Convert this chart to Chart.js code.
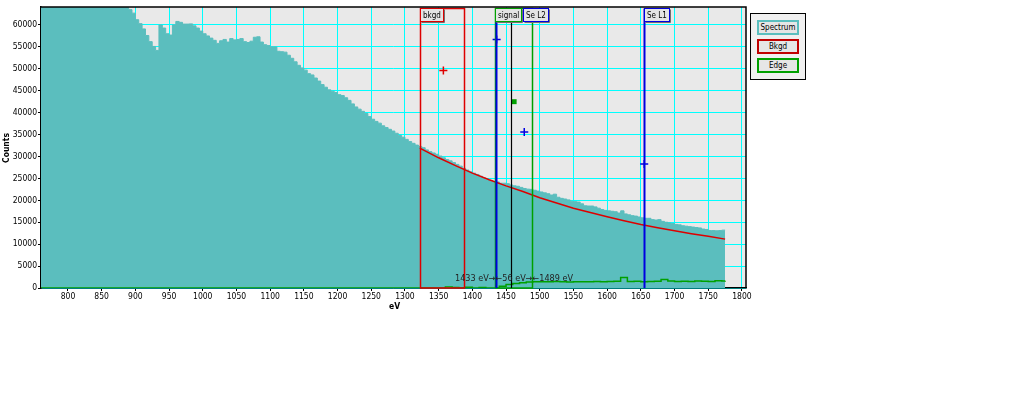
<!DOCTYPE html>
<html>
<head>
<meta charset="utf-8">
<title>Spectrum</title>
<script src="https://cdn.jsdelivr.net/npm/chart.js@4.4.1/dist/chart.umd.min.js"></script>
<style>
  body { margin: 0; background: #fff; }
  #wrap { position: relative; width: 1025px; height: 394px; }
  #legend { position: absolute; left: 750px; top: 13px; width: 56px; height: 67px; box-sizing: border-box; border: 1px solid #000; background: #f0f0f0; }
  .lg { position: absolute; left: 6px; width: 42px; height: 15px; box-sizing: border-box; border: 2px solid; background: #e6e6e6;
        font: 8px "DejaVu Sans Condensed", "DejaVu Sans", sans-serif; text-align: center; line-height: 11px; color: #000; }
</style>
</head>
<body>
<div id="wrap">
  <canvas id="spec" width="1025" height="394"></canvas>
  <div id="legend">
    <div class="lg" style="top:6px;border-color:#5bbfbf">Spectrum</div>
    <div class="lg" style="top:25px;border-color:#c00000">Bkgd</div>
    <div class="lg" style="top:44px;border-color:#00a000">Edge</div>
  </div>
</div>
<script>
// spectrum channels, 5 eV each, starting at 760 eV
const spectrumStart = 760, spectrumStep = 5;
const spectrumCounts = [
  70800, 70600, 70300, 70100, 69800, 69600, 69300, 69000, 68800, 68500, 68300, 68000, 67700,
  67500, 67200, 67000, 66700, 66400, 66200, 65900, 65700, 65400, 65200, 64900, 64700, 64400,
  63500, 62700, 61200, 60300, 59100, 57600, 56200, 55100, 54200, 60000, 59300, 58000, 57700,
  60000, 60800, 60600, 60200, 60200, 60250, 59800, 59300, 58600, 58000, 57500, 57000, 56500,
  55800, 56400, 56700, 56100, 56900, 56600, 56700, 56900, 56200, 56000, 56300, 57200, 57300,
  56100, 55500, 55300,
  55000, 55000, 54000, 53900, 53800, 53100, 52400, 51600, 50800, 50200, 49700, 48900, 48600,
  47900, 47200, 46400, 45800, 45200, 44900, 44600, 44100, 43900, 43400, 42800, 42000, 41300,
  40800, 40300, 39800, 39100, 38500, 38000, 37600, 37000, 36600, 36200, 35800, 35300, 34800,
  34400, 33900, 33400, 33000, 32600, 32300,
  32000, 31500, 31100, 30800, 30500, 30100, 29700, 29300, 29000, 28600, 28200, 27800, 27300,
  26900, 26500, 26200, 25900, 25500, 25100, 24700, 24500, 24300, 24200, 23900, 23900, 23800,
  23500, 23300, 23200, 22950, 22700, 22550, 22500, 22300, 22100, 21900, 21700, 21500, 21200,
  21400, 20700, 20450, 20300, 20100, 19800, 19700, 19600, 19200, 18750, 18700, 18700, 18500,
  18200, 17900, 17700, 17600, 17500, 17400, 17100, 17600, 16900, 16700, 16500, 16400, 16200,
  16000, 15900, 15900, 15600, 15500, 15600, 15200, 15000, 14850, 14700, 14500, 14400, 14200,
  14100, 14000, 13900, 13800, 13700, 13450, 13350, 13100, 13100, 13050, 13100, 13200, 13200
];

const bkgdEnergy = [1322, 1350, 1375, 1400, 1425, 1450, 1475, 1500, 1525, 1550, 1575, 1600, 1625, 1650, 1675, 1700, 1725, 1750, 1775];
const bkgdCounts = [31900, 29700, 27900, 26200, 24700, 23300, 22000, 20600, 19400, 18200, 17200, 16250, 15350, 14500, 13750, 13050, 12400, 11800, 11150];

const edgeEnergy = [760, 1330, 1340, 1350, 1360, 1370, 1380, 1390, 1400, 1410, 1420, 1430, 1440, 1450, 1460, 1470, 1480, 1490, 1500, 1510,
  1520, 1530, 1540, 1550, 1560, 1570, 1580, 1590, 1600, 1610, 1620, 1630, 1640, 1650, 1660, 1670, 1680, 1690, 1700, 1710,
  1720, 1730, 1740, 1750, 1760, 1770, 1775];
const edgeCounts = [0, 0, 0, 0, 250, 100, 0, 150, 0, 100, 0, 0, 400, 800, 1050, 1200, 1350, 1450, 1400, 1450,
  1500, 1400, 1350, 1400, 1450, 1400, 1500, 1450, 1500, 1550, 2400, 1500, 1550, 1450, 1500, 1550, 1950, 1600, 1500, 1550,
  1500, 1600, 1550, 1500, 1650, 1600, 1650];

const xTicks = [800, 850, 900, 950, 1000, 1050, 1100, 1150, 1200, 1250, 1300, 1350, 1400, 1450, 1500, 1550, 1600, 1650, 1700, 1750, 1800];
const yTicks = [0, 5000, 10000, 15000, 20000, 25000, 30000, 35000, 40000, 45000, 50000, 55000, 60000];

// windows and markers (eV)
const bkgdWindow = [1322, 1388];
const signalWindow = [1433, 1489];
const centroidEv = 1457;
const edgeLines = [{ ev: 1435, label: 'Se L2' }, { ev: 1655, label: 'Se L1' }];
const bkgdMark = { ev: 1357, counts: 49600 };
const signalMark = { ev: 1462, counts: 42500 };
const edgeMarkEv = [1436, 1477, 1655];
const edgeMarkCounts = [56700, 35600, 28300];

const TEAL = '#5bbebe', RED = '#dd0000', GREEN = '#00a000', BLUE = '#0000e0';
const FONT = '"DejaVu Sans Condensed", "DejaVu Sans", sans-serif';

const spectrumData = spectrumCounts.map((c, i) => ({ x: spectrumStart + i * spectrumStep, y: c }));

const overlay = {
  id: 'overlay',
  beforeDraw(chart) {
    const { ctx, chartArea: a } = chart;
    ctx.save();
    ctx.fillStyle = '#e9e9e9';
    ctx.fillRect(a.left, a.top, a.right - a.left, a.bottom - a.top);
    ctx.restore();
  },
  afterDatasetsDraw(chart) {
    const { ctx, chartArea: a, scales: { x } } = chart;
    const px = v => Math.round(x.getPixelForValue(v)) + 0.5;
    const top = a.top + 1.5, bot = a.bottom;
    ctx.save();

    const vline = (v, color, w) => { ctx.strokeStyle = color; ctx.lineWidth = w; ctx.beginPath(); ctx.moveTo(px(v), top); ctx.lineTo(px(v), bot); ctx.stroke(); };
    const box = (win, color, w) => { ctx.strokeStyle = color; ctx.lineWidth = w; ctx.strokeRect(px(win[0]), top, px(win[1]) - px(win[0]), bot - top); };

    box(bkgdWindow, RED, 1.5);
    box(signalWindow, GREEN, 1.5);
    vline(centroidEv, '#000', 1.2);
    edgeLines.forEach(e => vline(e.ev, BLUE, 2));

    ctx.font = '8px ' + FONT;
    const tag = (xl, text, color) => {
      const w = Math.round(ctx.measureText(text).width) + 5, h = 13, y0 = a.top + 1.5;
      ctx.fillStyle = '#e4e4e4'; ctx.fillRect(xl, y0, w, h);
      ctx.strokeStyle = '#707070'; ctx.lineWidth = 1;
      ctx.beginPath(); ctx.moveTo(xl + w + 1, y0 + 1); ctx.lineTo(xl + w + 1, y0 + h + 1); ctx.lineTo(xl + 1, y0 + h + 1); ctx.stroke();
      ctx.strokeStyle = color; ctx.strokeRect(xl, y0, w, h);
      ctx.fillStyle = '#000'; ctx.textAlign = 'left'; ctx.textBaseline = 'middle';
      ctx.fillText(text, xl + 2.5, y0 + h / 2 + 0.5);
      return xl + w;
    };
    tag(px(bkgdWindow[0]), 'bkgd', RED);
    const sigEnd = tag(px(signalWindow[0]), 'signal', GREEN);
    tag(sigEnd + 2, edgeLines[0].label, BLUE);
    tag(px(edgeLines[1].ev), edgeLines[1].label, BLUE);

    // window width annotation
    ctx.font = '9px ' + FONT; ctx.fillStyle = '#222'; ctx.textBaseline = 'middle';
    const ty = a.bottom - 9;
    ctx.textAlign = 'right'; ctx.fillText(signalWindow[0] + ' eV\u2192', px(signalWindow[0]), ty);
    ctx.textAlign = 'center'; ctx.fillText('\u2190' + (signalWindow[1] - signalWindow[0]) + ' eV\u2192', (px(signalWindow[0]) + px(signalWindow[1])) / 2, ty);
    ctx.textAlign = 'left'; ctx.fillText('\u2190' + signalWindow[1] + ' eV', px(signalWindow[1]), ty);

    // frame
    ctx.strokeStyle = '#000'; ctx.lineWidth = 1.5;
    ctx.beginPath(); ctx.moveTo(a.left, a.top); ctx.lineTo(a.right, a.top); ctx.lineTo(a.right, a.bottom); ctx.stroke();

    // axis titles
    ctx.font = 'bold 8.5px ' + FONT; ctx.fillStyle = '#000'; ctx.textAlign = 'center';
    ctx.fillText('eV', (a.left + a.right) / 2 + 1, 307);
    ctx.translate(7, 148); ctx.rotate(-Math.PI / 2); ctx.fillText('Counts', 0, 0);
    ctx.restore();
  }
};

Chart.defaults.font.family = FONT;
Chart.defaults.font.size = 8.5;
Chart.defaults.color = '#000';

new Chart(document.getElementById('spec'), {
  type: 'line',
  data: {
    datasets: [
      { label: 'bkgd mark', type: 'scatter', data: [{ x: bkgdMark.ev, y: bkgdMark.counts }], pointStyle: 'cross', pointRadius: 4, borderColor: RED, borderWidth: 1.5 },
      { label: 'edge marks', type: 'scatter', data: edgeMarkEv.map((e, i) => ({ x: e, y: edgeMarkCounts[i] })), pointStyle: 'cross', pointRadius: 4, borderColor: BLUE, borderWidth: 1.5 },
      { label: 'signal mark', type: 'scatter', data: [{ x: signalMark.ev, y: signalMark.counts }], pointStyle: 'rect', pointRadius: 3.5, backgroundColor: GREEN, borderColor: GREEN, borderWidth: 0 },
      { label: 'Bkgd', data: bkgdEnergy.map((e, i) => ({ x: e, y: bkgdCounts[i] })), borderColor: RED, borderWidth: 1.5, pointRadius: 0, fill: false },
      { label: 'Edge', data: edgeEnergy.map((e, i) => ({ x: e, y: edgeCounts[i] })), stepped: true, borderColor: GREEN, borderWidth: 1.5, pointRadius: 0, fill: false },
      { label: 'Spectrum', data: spectrumData, stepped: true, borderColor: TEAL, backgroundColor: TEAL, borderWidth: 1, pointRadius: 0, fill: 'origin' }
    ]
  },
  options: {
    responsive: false,
    animation: false,
    devicePixelRatio: 1,
    layout: { padding: { left: 0, top: 7, right: 279, bottom: 86 } },
    plugins: { legend: { display: false }, tooltip: { enabled: false } },
    scales: {
      x: {
        type: 'linear', min: 760, max: 1806,
        afterFit(s) { s.height = 20; },
        afterBuildTicks(s) { s.ticks = xTicks.map(v => ({ value: v })); },
        ticks: { padding: 1, maxRotation: 0, autoSkip: false, callback: v => String(v) },
        grid: { color: '#00ffff', lineWidth: 1, tickLength: 3, tickColor: '#000' },
        border: { color: '#000', width: 1.5 }
      },
      y: {
        type: 'linear', min: 0, max: 64100,
        afterFit(s) { s.width = 41; },
        afterBuildTicks(s) { s.ticks = yTicks.map(v => ({ value: v })); },
        ticks: { padding: 1, autoSkip: false, callback: v => String(v) },
        grid: { color: '#00ffff', lineWidth: 1, tickLength: 3, tickColor: '#000' },
        border: { color: '#000', width: 1.5 }
      }
    }
  },
  plugins: [overlay]
});
</script>
</body>
</html>
